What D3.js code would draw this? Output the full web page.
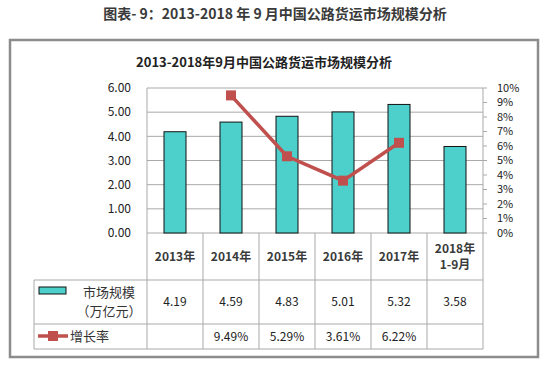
<!DOCTYPE html>
<html lang="zh">
<head>
<meta charset="UTF-8">
<title>2013-2018年9月中国公路货运市场规模分析</title>
<style>
  body { margin: 0; background: #fff; }
  text { font-family: "Noto Sans CJK SC", "Noto Sans", sans-serif; fill: #222; }
</style>
</head>
<body>
<svg id="svg" width="551" height="372"></svg>
<script src="https://d3js.org/d3.v7.min.js"></script>
<script>
const categories = ['2013年', '2014年', '2015年', '2016年', '2017年', '2018年\n1-9月']
const marketSize = [4.19, 4.59, 4.83, 5.01, 5.32, 3.58]   // 万亿元
const growthRate = [null, 9.49, 5.29, 3.61, 6.22, null]   // %
const leftTicks = [0, 1, 2, 3, 4, 5, 6]
const rightTicks = [0, 1, 2, 3, 4, 5, 6, 7, 8, 9, 10]

const svg = d3.select('#svg')
const plot = { left: 147, right: 483, top: 88, bottom: 233 }
const rowCat = 280, rowSize = 324, rowRate = 349, tableLeft = 34
const gridColor = '#a9a9a9'

const x = d3.scaleBand().domain(categories).range([plot.left, plot.right])
const yL = d3.scaleLinear().domain([0, 6]).range([plot.bottom, plot.top])
const yR = d3.scaleLinear().domain([0, 10]).range([plot.bottom, plot.top])

// page title
svg.append('text').attr('x', 275).attr('y', 19).attr('text-anchor', 'middle')
  .style('font-size', '14px').style('font-weight', 'bold').style('fill', '#3a3a3a')
  .text('图表- 9：2013-2018 年 9 月中国公路货运市场规模分析')

// chart frame
svg.append('rect').attr('x', 10).attr('y', 40).attr('width', 528).attr('height', 317)
  .attr('fill', '#fff').attr('stroke', '#8c8c8c').attr('stroke-width', 2.5)

svg.append('text').attr('x', 264).attr('y', 67).attr('text-anchor', 'middle')
  .style('font-size', '13px').style('font-weight', 'bold')
  .text('2013-2018年9月中国公路货运市场规模分析')

// gridlines
svg.append('g').selectAll('line').data(leftTicks).join('line')
  .attr('x1', plot.left).attr('x2', plot.right)
  .attr('y1', d => yL(d)).attr('y2', d => yL(d))
  .attr('stroke', gridColor).attr('stroke-width', 1)

// left axis labels
svg.append('g').selectAll('text').data(leftTicks).join('text')
  .attr('x', 131).attr('y', d => yL(d)).attr('dy', '0.35em')
  .attr('text-anchor', 'end').style('font-size', '12px')
  .text(d => d.toFixed(2))

// right axis
svg.append('g').selectAll('text').data(rightTicks).join('text')
  .attr('x', 497).attr('y', d => yR(d)).attr('dy', '0.35em')
  .style('font-size', '11px')
  .text(d => d + '%')
svg.append('g').selectAll('line').data(rightTicks).join('line')
  .attr('x1', plot.right).attr('x2', plot.right + 4)
  .attr('y1', d => yR(d)).attr('y2', d => yR(d))
  .attr('stroke', gridColor)

// bars
const barW = 22
svg.append('g').selectAll('rect').data(marketSize).join('rect')
  .attr('x', (d, i) => x(categories[i]) + x.bandwidth() / 2 - barW / 2)
  .attr('y', d => yL(d))
  .attr('width', barW)
  .attr('height', d => plot.bottom - yL(d))
  .attr('fill', '#4dd0cc').attr('stroke', '#111').attr('stroke-width', 1)

// growth line
const pts = growthRate.map((d, i) => ({ v: d, c: categories[i] })).filter(d => d.v != null)
const line = d3.line().x(d => x(d.c) + x.bandwidth() / 2).y(d => yR(d.v))
svg.append('path').datum(pts).attr('d', line)
  .attr('fill', 'none').attr('stroke', '#c0504d').attr('stroke-width', 3.5)
svg.append('g').selectAll('rect').data(pts).join('rect')
  .attr('x', d => x(d.c) + x.bandwidth() / 2 - 5)
  .attr('y', d => yR(d.v) - 5)
  .attr('width', 10).attr('height', 10)
  .attr('fill', '#c0504d')

// table lines
const tbl = svg.append('g').attr('stroke', gridColor).attr('stroke-width', 1)
const bounds = categories.map(c => x(c)).concat([plot.right])
tbl.selectAll('line.v').data(bounds).join('line').attr('class', 'v')
  .attr('x1', d => d).attr('x2', d => d)
  .attr('y1', (d, i) => (i === 0 || i === bounds.length - 1) ? plot.top : plot.bottom)
  .attr('y2', rowRate)
tbl.selectAll('line.h').data([rowCat, rowSize, rowRate]).join('line').attr('class', 'h')
  .attr('x1', tableLeft).attr('x2', plot.right)
  .attr('y1', d => d).attr('y2', d => d)
tbl.append('line').attr('x1', tableLeft).attr('x2', tableLeft).attr('y1', rowCat).attr('y2', rowRate)

// category labels
const catG = svg.append('g')
categories.forEach(c => {
  const lines = c.split('\n')
  const cy = (plot.bottom + rowCat) / 2
  lines.forEach((t, j) => {
    catG.append('text')
      .attr('x', x(c) + x.bandwidth() / 2)
      .attr('y', cy + (j - (lines.length - 1) / 2) * 16)
      .attr('dy', '0.35em').attr('text-anchor', 'middle')
      .style('font-size', '12px').style('font-weight', 'bold').style('fill', '#3a3a3a')
      .text(t)
  })
})

// value rows
svg.append('g').selectAll('text').data(marketSize).join('text')
  .attr('x', (d, i) => x(categories[i]) + x.bandwidth() / 2)
  .attr('y', (rowCat + rowSize) / 2).attr('dy', '0.35em')
  .attr('text-anchor', 'middle').style('font-size', '12px')
  .text(d => d.toFixed(2))
svg.append('g').selectAll('text').data(growthRate).join('text')
  .attr('x', (d, i) => x(categories[i]) + x.bandwidth() / 2)
  .attr('y', (rowSize + rowRate) / 2).attr('dy', '0.35em')
  .attr('text-anchor', 'middle').style('font-size', '12px')
  .text(d => d == null ? '' : d.toFixed(2) + '%')

// legend cells
svg.append('rect').attr('x', 39).attr('y', 287).attr('width', 27).attr('height', 7)
  .attr('fill', '#4dd0cc').attr('stroke', '#111').attr('stroke-width', 1)
svg.append('text').attr('x', 109).attr('y', 292).attr('dy', '0.35em')
  .attr('text-anchor', 'middle').style('font-size', '13px').style('fill', '#333').text('市场规模')
svg.append('text').attr('x', 109).attr('y', 311).attr('dy', '0.35em')
  .attr('text-anchor', 'middle').style('font-size', '13px').style('fill', '#333').text('（万亿元）')
svg.append('line').attr('x1', 38).attr('x2', 68).attr('y1', 336).attr('y2', 336)
  .attr('stroke', '#c0504d').attr('stroke-width', 3.5)
svg.append('rect').attr('x', 48).attr('y', 331).attr('width', 10).attr('height', 10).attr('fill', '#c0504d')
svg.append('text').attr('x', 70).attr('y', 336).attr('dy', '0.35em')
  .style('font-size', '13px').style('fill', '#333').text('增长率')
</script>
</body>
</html>
